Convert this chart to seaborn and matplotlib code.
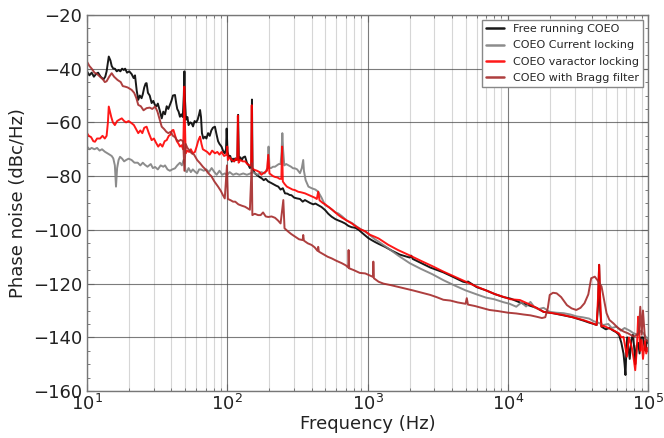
import pandas as pd
import matplotlib
matplotlib.use("Agg")
import matplotlib.pyplot as plt
import matplotlib.ticker as mticker
import seaborn as sns

# (frequency Hz, phase noise dBc/Hz)
free_running = [
    (10, -41), (10.4, -42.5), (10.8, -41.5), (11.2, -43), (11.6, -42), (12, -41.5), (12.5, -43),
    (13.1, -44), (13.5, -43), (13.8, -41), (14.3, -35.5), (14.7, -37), (15.0, -39), (15.4, -40),
    (15.8, -40), (16.3, -41), (16.8, -40.5), (17.3, -41), (17.8, -40), (18.3, -40.5), (18.7, -40),
    (19.3, -41.5), (20, -41), (20.8, -42), (21.5, -43.5), (22, -42.5), (22.6, -48), (23.2, -51.6),
    (23.8, -50), (24.5, -51), (25, -49.5), (25.6, -47), (26.2, -45.5), (26.6, -45.4), (27.2, -49),
    (28, -50), (28.9, -52.8), (29.7, -52), (30.5, -53.5), (31.3, -54), (32, -53), (33, -55.5),
    (34.1, -58.5), (35, -56), (36, -57), (37, -54), (38, -55), (39, -53.5), (40, -52), (41, -50),
    (42.4, -49.8), (43.3, -53), (44, -55), (45, -56), (46, -57.9), (47, -57), (48.2, -58),
    (49, -50), (49.5, -41), (50, -52), (50.8, -59), (52, -58), (53, -61), (54.5, -60),
    (55.7, -60.3), (57, -61.5), (58.5, -59.5), (60, -60), (61.5, -59), (63, -57), (64, -55.4),
    (65, -58), (66, -64), (67.5, -66), (69.4, -65.3), (71, -66), (73, -64), (75, -65), (77, -63),
    (79, -62), (81.7, -61.6), (83.5, -64), (86, -67), (88, -68), (91, -69), (94, -71), (96, -71.5),
    (98, -70), (99, -62.3), (100.5, -71), (103, -73), (105, -72.5), (107.7, -74.6), (110, -73.5),
    (112, -74.5), (114, -73.4), (116, -74), (118, -73.5), (119.5, -57.2), (121, -74), (124, -73),
    (127, -74), (130, -73), (134, -72.7), (138, -75), (142, -76), (145, -77), (148.5, -76.5),
    (150, -51.5), (151.5, -77), (154, -78), (157, -78.9), (162, -79.5), (167, -80), (172, -80.5),
    (176, -80.8), (182, -81.5), (188, -81), (196, -82), (205, -82.5), (213, -83), (222, -83.5),
    (231, -83.9), (240, -85), (249, -84.5), (258, -86.4), (268, -86.5), (278, -87), (287, -87.1),
    (300, -88), (315, -88.3), (330, -88.5), (345, -89.5), (358, -88.9), (375, -89.5), (390, -90),
    (410, -90.5), (425, -90.2), (445, -90.8), (470, -91.5), (498, -92.6), (525, -94),
    (555, -95.1), (590, -96), (620, -96.5), (655, -97), (691, -97.6), (730, -98.5), (770, -99),
    (815, -99.2), (862, -99.9), (910, -101), (960, -102), (1010, -103), (1070, -103.8),
    (1130, -104.5), (1200, -105.2), (1330, -106.3), (1500, -107.8), (1700, -109.2),
    (2000, -110.3), (2050, -109.6), (2100, -110.8), (2400, -112.3), (2800, -114), (3470, -115.8),
    (4000, -117.3), (4800, -119.3), (5100, -119.6), (5200, -119.2), (6000, -121.3),
    (7000, -122.5), (8000, -123.8), (9300, -125), (10500, -125.6), (12200, -127), (14000, -128),
    (16000, -129), (18000, -130.5), (21000, -131), (25000, -131.8), (29000, -132.5),
    (34800, -133.8), (38000, -134.5), (41000, -135), (43000, -135.4), (44000, -128),
    (44800, -113), (45600, -130), (46500, -136), (50000, -137), (53000, -136.5), (56500, -137.5),
    (59000, -138), (62000, -139), (64500, -142), (66800, -146), (68000, -150), (69000, -154),
    (70000, -145), (71000, -140), (72500, -144), (74000, -148), (76000, -141), (78000, -139),
    (80000, -145), (81000, -150), (83000, -143), (85000, -142), (87000, -146), (89000, -140),
    (92000, -140), (94000, -143), (96000, -145), (98000, -141), (100000, -142),
]

current_locking = [
    (10, -69), (10.4, -70), (10.8, -69.5), (11.3, -70), (11.8, -69.5), (12.3, -70.5), (12.8, -70),
    (13.4, -70.9), (14, -71.5), (14.5, -72), (15, -72.5), (15.4, -73.4), (15.8, -76),
    (16.1, -83.9), (16.4, -77), (16.8, -74), (17.2, -72.8), (17.8, -73.5), (18.4, -74.5),
    (19, -74), (19.8, -73.5), (20.8, -74), (21.8, -75), (23, -75), (24, -76), (25, -75),
    (25.9, -75.8), (27, -76.5), (28.5, -75.5), (29.5, -77), (30.6, -76.6), (32, -77.5),
    (33.5, -76), (35, -76.5), (36, -76), (37.5, -77.5), (39, -78), (40.5, -77.5), (42.4, -77.1),
    (44, -76), (46, -75), (47.5, -76), (48.8, -74), (49.5, -74), (50.3, -78), (51.5, -78.5),
    (53, -77), (55, -78.5), (56.8, -77.5), (58.8, -78.3), (61, -79), (63, -77.5), (65, -77.5),
    (68, -78), (71, -77.5), (74, -78.5), (77.4, -77), (81, -78.5), (84, -79.5), (88, -78),
    (92, -79.5), (96, -79), (100, -79.5), (104, -78.5), (110, -79.5), (116, -79), (122, -79.5),
    (130, -79), (138, -79.5), (146, -79), (152, -78.5), (157, -78.9), (165, -79.5), (175, -78.5),
    (185, -79), (191, -77.5), (194, -77), (197, -69), (200, -77), (205, -77), (212, -76.5),
    (219, -76.5), (226, -76), (233, -75.5), (240, -75.5), (244, -71), (247, -64), (250, -70),
    (255, -76), (263, -75.5), (272, -75.9), (285, -76.5), (295, -77.1), (304, -77.1),
    (315, -77.5), (330, -78.9), (340, -77), (345, -75), (348, -74), (352, -78), (362, -81.5),
    (379, -83.9), (400, -84.5), (425, -85), (445, -85.8), (470, -88), (498, -90.8), (530, -91.5),
    (560, -92.5), (590, -93.5), (620, -93.9), (660, -95), (710, -96.5), (772, -97.4),
    (840, -98.8), (900, -99.8), (963, -100.7), (1070, -102.5), (1130, -103.5), (1200, -104.4),
    (1400, -106.8), (1650, -109.5), (2000, -112.4), (2400, -114.5), (2900, -116.5),
    (3470, -118.7), (4100, -120.5), (5000, -122.5), (6000, -124), (7000, -125.2), (8000, -125.8),
    (9300, -126.9), (10300, -127.5), (11500, -128.6), (12500, -127), (13500, -128.5),
    (14500, -126.8), (15500, -128.8), (16500, -129.5), (18000, -129), (19900, -130.5),
    (22000, -130.8), (25000, -131), (28000, -131.5), (31000, -132.2), (34000, -132.5),
    (38000, -133), (41000, -134), (44000, -134.5), (48000, -135.4), (52000, -135), (55000, -136.5),
    (59900, -136), (64000, -137.5), (68000, -136.5), (74000, -137.5), (79000, -138.5),
    (85000, -139), (89000, -137.5), (93000, -138.6), (97000, -140), (100000, -140.5),
]

varactor_locking = [
    (10, -64), (10.3, -65), (10.7, -65.5), (11.1, -67), (11.4, -67.2), (11.8, -66), (12.4, -66),
    (12.9, -65), (13.4, -66), (13.8, -65), (14.1, -60), (14.3, -54.1), (14.6, -56), (14.9, -58),
    (15.3, -60), (15.8, -61), (16.4, -59.5), (17, -59), (17.7, -58.5), (18.4, -59.5), (19, -60),
    (19.8, -59.5), (20.8, -60.3), (21.6, -61), (22.4, -62.5), (23.2, -64), (24, -63), (24.8, -64),
    (25.6, -62), (26.6, -61.6), (27.6, -64), (28.9, -66.6), (30, -66), (31, -67.5), (32.2, -69),
    (33.3, -68), (34.5, -69), (35.8, -67), (37, -66.6), (38.3, -65), (39.5, -64.5), (40.4, -63),
    (41.3, -62.8), (42.5, -65), (43.7, -67), (45, -68), (46, -69), (47.2, -68.5), (48.5, -70),
    (49, -60), (49.4, -46.7), (49.9, -60), (50.5, -71.5), (52, -70.5), (53.5, -71), (55, -70),
    (56.8, -71.5), (58.8, -71), (60.5, -69), (62, -67), (63, -66), (64, -65.3), (65.5, -68),
    (67, -70), (69.4, -70.5), (72, -71), (75, -72), (78, -70.5), (81.7, -71.5), (85, -71),
    (88, -72), (91, -71), (95, -72.5), (99, -72), (100, -69), (101, -74), (104, -73),
    (107.7, -74), (112, -74.5), (115, -73.5), (118, -74), (119, -57.5), (120.5, -75), (124, -74),
    (129, -74.5), (134, -74.5), (139, -75.5), (144, -76), (148, -76), (149.5, -53.6), (151, -77),
    (154, -77.5), (157, -77.7), (163, -78), (170, -78.5), (175, -79.5), (180, -79), (186, -78.5),
    (192, -78), (196, -72.1), (200, -79), (206, -79.5), (212, -80), (219, -80.3), (228, -80.5),
    (236, -81), (243, -81), (246, -69), (249, -82), (257, -83), (266, -83.9), (280, -84.5),
    (292, -85), (304, -85.2), (320, -85.8), (335, -86), (358, -86.4), (380, -87), (400, -87.5),
    (420, -88), (435, -88.5), (445, -85.8), (455, -89), (480, -90), (500, -90.5), (525, -91.4),
    (560, -92.5), (590, -93.5), (620, -94.5), (660, -95.5), (710, -96.5), (772, -97.6),
    (830, -98.8), (890, -99.8), (963, -100.5), (1040, -101.8), (1120, -102.5), (1200, -103.2),
    (1400, -105.5), (1650, -107.5), (2000, -109.5), (2400, -111.5), (2900, -113.5),
    (3470, -115.5), (4100, -117.2), (5000, -119.2), (6000, -121.1), (7200, -122.8),
    (8200, -124), (9300, -124.9), (10400, -125.8), (12200, -126.1), (14000, -127.5),
    (16000, -129), (18000, -130.5), (21000, -131), (25000, -131.7), (29000, -132.5),
    (34800, -133.6), (39000, -134.5), (43000, -135.4), (44000, -125), (44800, -113),
    (45600, -126), (46500, -136), (48000, -135.7), (52000, -136.5), (56500, -137.3),
    (59500, -138), (62000, -138.5), (64500, -140), (66800, -139.8), (68500, -143),
    (70600, -147.2), (72000, -143), (73000, -140), (75000, -142), (76700, -144), (79000, -148),
    (81000, -152.2), (83000, -145), (85000, -132.3), (86500, -138), (88000, -145), (90000, -141),
    (92000, -148), (95000, -141.3), (97000, -146), (100000, -143.8),
]

bragg_filter = [
    (10, -37.4), (10.4, -39), (10.8, -40), (11.3, -41.5), (11.8, -42), (12.4, -43), (13, -44),
    (13.4, -45), (13.8, -44.7), (14.4, -43), (15, -41.7), (15.6, -43), (16.5, -44.2),
    (17.4, -45), (18, -46.5), (18.7, -46.7), (19.5, -47), (20.8, -47.9), (21.7, -49),
    (22.5, -51), (23.2, -53.5), (24.2, -54), (25.3, -55.5), (26.6, -54.7), (28, -54.5),
    (29.2, -55), (30.6, -54.1), (31.8, -56), (33, -59), (34.1, -61.6), (35.5, -62.5),
    (36.8, -63.5), (38, -64), (39.5, -63.5), (41, -65), (42.4, -65.5), (43.6, -66.5), (45, -67),
    (46.5, -66.5), (48.5, -67), (49.5, -78), (50.5, -68), (52, -69.5), (54, -70.5),
    (55.7, -71.5), (58, -72), (61, -74), (64, -75.2), (67, -76.5), (70, -77.5), (73.2, -78.9),
    (77, -80), (81, -82), (86, -83.9), (90, -85.5), (93, -87), (96, -88.3), (99.5, -76),
    (101, -88.5), (106, -89), (110, -89.5), (114, -89.5), (120, -90.5), (127, -91),
    (134, -91.4), (140, -92), (145, -92.5), (149.5, -75.2), (151, -94.5), (157, -94),
    (166, -94.5), (173, -94.5), (180, -93.5), (188, -95), (196, -95.2), (207, -95),
    (219, -95.5), (230, -96.5), (240, -97.6), (251, -88.9), (256, -99.4), (270, -100.5),
    (285, -101.5), (304, -102.5), (325, -103.5), (345, -103.8), (348, -101.9), (352, -104),
    (375, -105), (399, -105.6), (420, -106.5), (440, -107.8), (445, -106.3), (450, -108.1),
    (490, -109.2), (520, -110), (555, -110.6), (600, -111.5), (656, -112.4), (700, -113.2),
    (728, -114), (733, -107.5), (740, -114.3), (800, -115), (880, -116), (963, -116.2),
    (1040, -117), (1095, -117.5), (1100, -111.8), (1110, -118), (1200, -119.3), (1300, -120),
    (1450, -120.5), (1620, -121.1), (1850, -121.8), (2100, -122.5), (2400, -123.3),
    (2800, -124.2), (3100, -125), (3470, -126), (3900, -126.3), (4400, -127), (5000, -127.5),
    (5100, -125.4), (5200, -127.8), (5800, -128.3), (6500, -129), (7400, -129.8),
    (8500, -130.2), (10000, -130.8), (11500, -131.1), (13000, -131.5), (14500, -131.8),
    (16000, -132.3), (17500, -132.8), (18500, -132.5), (19300, -129), (19900, -124.2),
    (21000, -123.4), (22300, -123.6), (24000, -125), (26400, -128), (28500, -129.2),
    (30800, -129.8), (33000, -129), (35200, -127.3), (37500, -124), (39300, -118),
    (41700, -117.4), (44000, -119), (46600, -121.1), (48500, -126), (50600, -131),
    (53000, -133.5), (56700, -134.8), (61000, -136.5), (66800, -137.8), (72000, -138.5),
    (79100, -139.7), (84000, -139), (86000, -138), (88000, -128.6), (90000, -139),
    (92000, -130), (95000, -140.5), (100000, -141.6),
]

names = ["Free running COEO", "COEO Current locking", "COEO varactor locking",
         "COEO with Bragg filter"]
colors = ["black", "grey", "red", "brown"]
series = [free_running, current_locking, varactor_locking, bragg_filter]

frames = []
for name, pts in zip(names, series):
    d = pd.DataFrame(pts, columns=["freq", "pn"])
    d["series"] = name
    frames.append(d)
df = pd.concat(frames, ignore_index=True)

sns.set_style("ticks", {"xtick.direction": "in", "ytick.direction": "in"})
plt.rcParams["font.family"] = ["DejaVu Sans"]

fig = plt.figure(figsize=(6.64, 4.38), dpi=100)
ax = fig.add_axes([0.131, 0.107, 0.845, 0.859])

sns.lineplot(data=df, x="freq", y="pn", hue="series", hue_order=names,
             palette=dict(zip(names, colors)), sort=False, estimator=None,
             lw=1.4, alpha=0.9, ax=ax)

ax.set_xscale("log")
ax.set_xlim(10, 1e5)
ax.set_ylim(-160, -20)
ax.yaxis.set_major_locator(mticker.MultipleLocator(20))
ax.yaxis.set_minor_locator(mticker.MultipleLocator(5))

ax.grid(which="major", color="#444444", lw=0.8, alpha=0.7)
ax.grid(which="minor", axis="x", color="#bbbbbb", lw=0.8, alpha=0.6)
ax.set_axisbelow(True)

ax.tick_params(which="both", direction="in", top=True, right=True, colors="#666666",
               labelcolor="#222222")
ax.tick_params(which="major", length=5, labelsize=13)
ax.tick_params(which="minor", length=2.5)
ax.tick_params(axis="x", which="major", pad=2)
for s in ax.spines.values():
    s.set_color("#777777")
    s.set_linewidth(1.0)

ax.set_xlabel("Frequency (Hz)", fontsize=13, color="#222222", labelpad=1)
ax.set_ylabel("Phase noise (dBc/Hz)", fontsize=13, color="#222222")

handles, labels = ax.get_legend_handles_labels()
leg = ax.legend(handles, labels, loc="upper right", fontsize=8, fancybox=False,
                framealpha=1, edgecolor="#888888", handlelength=1.6,
                borderaxespad=0.45, labelspacing=0.55)
for line in leg.get_lines():
    line.set_linewidth(1.8)

fig.savefig("out.png", dpi=100)
